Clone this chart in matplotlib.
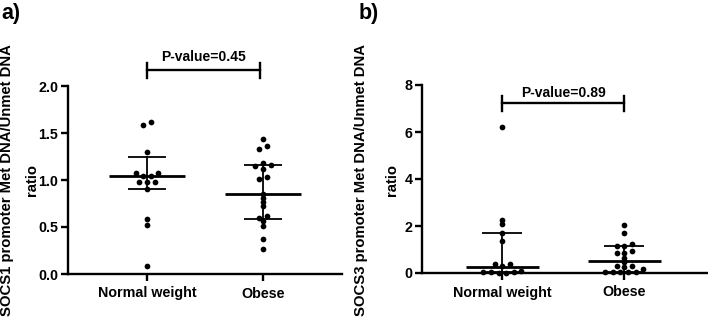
import matplotlib
matplotlib.use("Agg")
import matplotlib.pyplot as plt
import numpy as np

plt.rcParams['font.family'] = ['Liberation Sans', 'DejaVu Sans']
plt.rcParams['font.weight'] = 'bold'

# ---------------- data ----------------
groups = ["Normal weight", "Obese"]

socs1_normal = [0.09, 0.52, 0.58, 0.90, 0.98, 0.98, 0.98, 1.04, 1.04, 1.07, 1.075,
                1.30, 1.59, 1.62]
socs1_obese = [0.27, 0.37, 0.51, 0.56, 0.60, 0.62, 0.72, 0.77, 0.81, 0.85, 1.01, 1.03,
               1.12, 1.15, 1.155, 1.18, 1.33, 1.36, 1.44]
socs1_median = [1.04, 0.85]
socs1_q1 = [0.90, 0.59]
socs1_q3 = [1.24, 1.16]

socs3_normal = [0.02, 0.02, 0.03, 0.05, 0.05, 0.10, 0.30, 0.38, 0.40, 1.35, 1.72,
                2.08, 2.25, 6.22]
socs3_obese = [0.03, 0.03, 0.03, 0.03, 0.03, 0.17, 0.25, 0.31, 0.31, 0.48, 0.65,
               0.86, 0.86, 0.95, 1.15, 1.15, 1.23, 1.70, 2.05]
socs3_median = [0.27, 0.50]
socs3_q1 = [0.04, 0.05]
socs3_q3 = [1.72, 1.15]

socs1_yticks = [0.0, 0.5, 1.0, 1.5, 2.0]
socs1_yticklabels = ["0.0", "0.5", "1.0", "1.5", "2.0"]
socs3_yticks = [0, 2, 4, 6, 8]
socs3_yticklabels = ["0", "2", "4", "6", "8"]

p_labels = ["P-value=0.45", "P-value=0.89"]
ylabels = ["SOCS1 promoter Met DNA/Unmet DNA", "SOCS3 promoter Met DNA/Unmet DNA"]
panel_letters = ["a)", "b)"]

# ---------------- figure ----------------
W, H = 708, 323
fig = plt.figure(figsize=(W / 100, H / 100), dpi=100)

ax1 = fig.add_axes([68 / W, 1 - 274 / H, 274 / W, 188 / H])
ax2 = fig.add_axes([422 / W, 1 - 273 / H, 285 / W, 188 / H])

FS = 10.3
LW = 1.7


def swarm_offsets(ax, values, thr_px=3.7, step_px=7.6):
    vals = np.asarray(values, dtype=float)
    order = np.argsort(vals, kind="stable")
    ypx = ax.transData.transform(np.column_stack([np.zeros_like(vals), vals]))[:, 1]
    xpx_per_unit = ax.transData.transform((1, 0))[0] - ax.transData.transform((0, 0))[0]
    offs = np.zeros_like(vals)
    groups_idx = []
    cur = []
    for i in order:
        if cur and ypx[i] - ypx[cur[0]] > thr_px:
            groups_idx.append(cur)
            cur = []
        cur.append(i)
    if cur:
        groups_idx.append(cur)
    for g in groups_idx:
        n = len(g)
        slots = [k - (n - 1) / 2 for k in range(n)]
        slots = sorted(slots, key=lambda s: (abs(s), s))
        for idx, s in zip(g, slots):
            offs[idx] = s * step_px / xpx_per_unit
    return offs


def draw_panel(ax, data_sets, med, q1, q3, yticks, yticklabels, ylim, xlim,
               med_half, cap_half):
    ax.set_xlim(*xlim)
    ax.set_ylim(*ylim)
    for i, vals in enumerate(data_sets):
        offs = swarm_offsets(ax, vals)
        ax.scatter(i + offs, vals, s=17, color="black", zorder=3, clip_on=False,
                   linewidths=0)
        ax.plot([i - med_half, i + med_half], [med[i], med[i]], color="black",
                lw=2.0, zorder=4, solid_capstyle="butt", clip_on=False)
        ax.plot([i, i], [q1[i], q3[i]], color="black", lw=1.3, zorder=4, clip_on=False)
        for q in (q1[i], q3[i]):
            ax.plot([i - cap_half, i + cap_half], [q, q], color="black", lw=1.3,
                    zorder=4, solid_capstyle="butt", clip_on=False)
    ax.set_xticks(range(len(groups)))
    ax.set_xticklabels(groups, fontsize=FS, fontweight="bold")
    ax.set_yticks(yticks)
    ax.set_yticklabels(yticklabels, fontsize=FS, fontweight="bold")
    for side in ("top", "right"):
        ax.spines[side].set_visible(False)
    for side in ("left", "bottom"):
        ax.spines[side].set_linewidth(LW)
    ax.tick_params(axis="both", width=LW, length=5, direction="out", pad=2)
    ax.tick_params(axis="x", pad=4)


draw_panel(ax1, [socs1_normal, socs1_obese], socs1_median, socs1_q1, socs1_q3,
           socs1_yticks, socs1_yticklabels, (0, 2.0), (-0.68, 1.68), 0.33, 0.165)
draw_panel(ax2, [socs3_normal, socs3_obese], socs3_median, socs3_q1, socs3_q3,
           socs3_yticks, socs3_yticklabels, (0, 8), (-0.66, 1.68), 0.30, 0.165)


# significance brackets
def bracket(ax, x0, x1, y, dy, label, ty):
    ax.plot([x0, x1], [y, y], color="black", lw=LW, clip_on=False)
    for x in (x0, x1):
        ax.plot([x, x], [y - dy, y + dy], color="black", lw=LW, clip_on=False)
    ax.text((x0 + x1) / 2, ty, label, ha="center", va="center", fontsize=FS - 0.3,
            fontweight="bold", clip_on=False)


bracket(ax1, 0, 0.97, 2.17, 0.08, p_labels[0], 2.31)
bracket(ax2, 0, 1.0, 7.23, 0.32, p_labels[1], 7.66)

# y labels (two lines)
for ax, lab, xl1, xl2 in ((ax1, ylabels[0], 7, 32), (ax2, ylabels[1], 361, 392)):
    bb = ax.get_position()
    yc = 1 - 180 / H
    fig.text(xl1 / W, yc, lab, rotation=90, ha="center", va="center",
             fontsize=FS + 0.4, fontweight="bold")
    fig.text(xl2 / W, yc, "ratio", rotation=90, ha="center", va="center",
             fontsize=FS + 0.4, fontweight="bold")

# panel letters
fig.text(1 / W, 1 - 3 / H, panel_letters[0], ha="left", va="top", fontsize=15.5,
         fontweight="bold")
fig.text(359 / W, 1 - 3 / H, panel_letters[1], ha="left", va="top", fontsize=15.5,
         fontweight="bold")

fig.savefig("out.png", dpi=100)
